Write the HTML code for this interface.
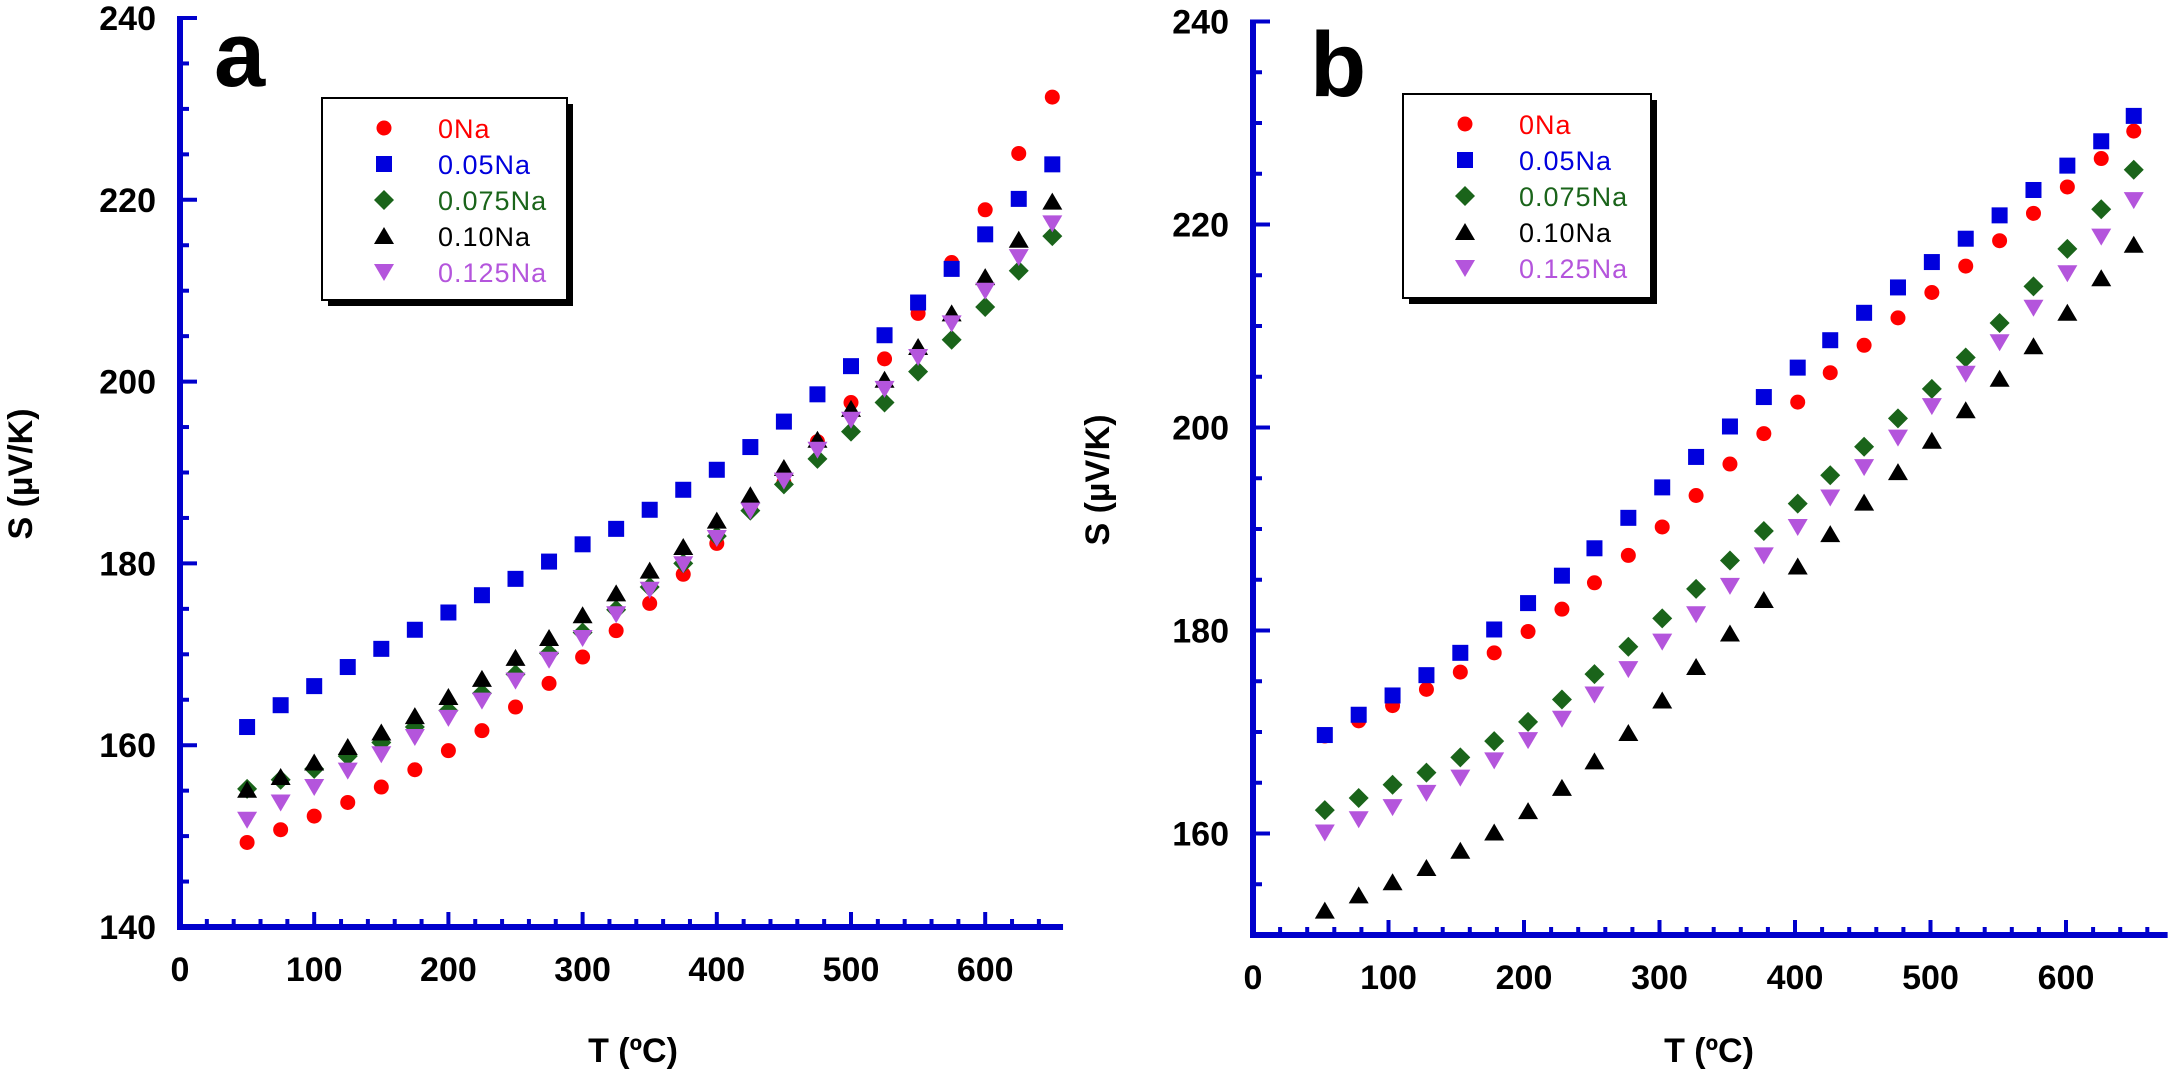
<!DOCTYPE html>
<html><head><meta charset="utf-8"><style>
html,body{margin:0;padding:0;background:#fff}
svg{display:block;font-family:"Liberation Sans",Arial,sans-serif}
</style></head><body>
<svg id="chart" width="2175" height="1076" viewBox="0 0 2175 1076"></svg>
<script>
const temps = [50,75,100,125,150,175,200,225,250,275,300,325,350,375,400,425,450,475,500,525,550,575,600,625,650];
const tempsB = [53,78,103,128,153,178,203,228,252,277,302,327,352,377,402,426,451,476,501,526,551,576,601,626,650];
const seriesNames = ["0Na","0.05Na","0.075Na","0.10Na","0.125Na"];
const a_0Na = [149.3,150.7,152.2,153.7,155.4,157.3,159.4,161.6,164.2,166.8,169.7,172.6,175.6,178.8,182.2,186.0,188.9,193.4,197.7,202.5,207.5,213.1,218.9,225.1,231.3];
const a_005Na = [162.0,164.4,166.5,168.6,170.6,172.7,174.6,176.5,178.3,180.2,182.1,183.8,185.9,188.1,190.3,192.8,195.6,198.6,201.7,205.1,208.7,212.4,216.2,220.1,223.9];
const a_0075Na = [155.2,156.2,157.4,158.8,160.3,162.0,163.8,165.7,167.8,170.1,172.4,174.9,177.4,180.0,183.0,185.8,188.7,191.5,194.5,197.7,201.1,204.6,208.2,212.2,216.0];
const a_010Na = [155.1,156.5,158.1,159.8,161.4,163.2,165.3,167.3,169.6,171.8,174.3,176.7,179.2,181.8,184.7,187.5,190.5,193.6,197.0,200.2,203.8,207.5,211.5,215.6,219.8];
const a_0125Na = [151.8,153.7,155.4,157.2,159.0,160.9,163.0,164.9,167.1,169.4,171.8,174.4,177.1,179.9,182.8,185.8,189.1,192.5,195.8,199.2,202.7,206.4,210.0,213.7,217.4];
const b_0Na = [169.6,171.1,172.6,174.2,175.9,177.8,179.9,182.1,184.7,187.4,190.2,193.3,196.4,199.4,202.5,205.4,208.1,210.8,213.3,215.9,218.4,221.1,223.7,226.5,229.2];
const b_005Na = [169.7,171.7,173.6,175.6,177.8,180.1,182.7,185.4,188.1,191.1,194.1,197.1,200.1,203.0,205.9,208.6,211.3,213.8,216.3,218.6,220.9,223.4,225.8,228.2,230.7];
const b_0075Na = [162.3,163.5,164.8,166.0,167.5,169.1,171.0,173.2,175.7,178.4,181.2,184.1,186.9,189.8,192.5,195.3,198.1,200.9,203.8,206.9,210.3,213.9,217.6,221.5,225.4];
const b_010Na = [152.4,153.9,155.2,156.6,158.3,160.1,162.2,164.5,167.1,169.9,173.1,176.4,179.7,183.0,186.3,189.5,192.6,195.6,198.7,201.7,204.8,208.0,211.3,214.7,218.0];
const b_0125Na = [160.1,161.4,162.6,164.0,165.5,167.2,169.2,171.3,173.7,176.2,178.9,181.6,184.4,187.4,190.2,193.1,196.1,199.0,202.1,205.3,208.4,211.8,215.2,218.8,222.4];
const xTicks = [0,100,200,300,400,500,600];
const yTicksA = [140,160,180,200,220,240];
const yTicksB = [160,180,200,220,240];

const NS="http://www.w3.org/2000/svg";
const svg=document.getElementById('chart');
const AX="#0000cc";
const colors=["#ff0000","#0000dd","#1a641a","#000000","#b455dc"];
const shapes=["circle","square","diamond","tri","tridown"];
function mk(tag,attrs,parent){const e=document.createElementNS(NS,tag);for(const k in attrs)e.setAttribute(k,attrs[k]);(parent||svg).appendChild(e);return e;}

function marker(g,shape,cx,cy,col){
  let e;
  if(shape==="circle") e=mk('circle',{cx:cx,cy:cy,r:7.5,fill:col},g);
  else if(shape==="square") e=mk('rect',{x:cx-8,y:cy-8,width:16,height:16,fill:col},g);
  else if(shape==="diamond") e=mk('polygon',{points:`${cx},${cy-10} ${cx+10},${cy} ${cx},${cy+10} ${cx-10},${cy}`,fill:col},g);
  else if(shape==="tri") e=mk('polygon',{points:`${cx},${cy-9} ${cx+10},${cy+8} ${cx-10},${cy+8}`,fill:col},g);
  else e=mk('polygon',{points:`${cx-10},${cy-8} ${cx+10},${cy-8} ${cx},${cy+9}`,fill:col},g);
  return e;
}

function panel(p){
  const g=mk('g',{});
  
  
  const X=v=>p.x0+(v)*p.xs;
  const Y=v=>p.yBot-(v-p.ymin)*p.ys;
  // axes
  const ya=mk('line',{x1:p.x0,y1:Y(p.ymax)-2,x2:p.x0,y2:p.yBot+3,stroke:AX,'stroke-width':6},g);
  
  
  const xa=mk('line',{x1:p.x0-3,y1:p.yBot,x2:X(p.xmax),y2:p.yBot,stroke:AX,'stroke-width':6},g);
  
  
  // y ticks every 5
  for(let v=p.ymin;v<=p.ymax+0.01;v+=5){
    if(v===p.ymin) continue;
    const major=(v%20===0);
    mk('line',{x1:p.x0,y1:Y(v),x2:p.x0+(major?17:9),y2:Y(v),stroke:AX,'stroke-width':4},g);
  }
  for(let v=20;v<=p.xmax;v+=20){
    const major=(v%100===0);
    mk('line',{x1:X(v),y1:p.yBot,x2:X(v),y2:p.yBot-(major?15:8),stroke:AX,'stroke-width':4},g);
  }
  p.yt.forEach(v=>{
    const t=mk('text',{x:p.x0-24,y:Y(v)+12,'text-anchor':'end','font-size':34,'font-weight':'bold'},g);
    t.textContent=v;
    
    
  });
  xTicks.forEach(v=>{
    const t=mk('text',{x:X(v),y:p.yBot+54,'text-anchor':'middle','font-size':34,'font-weight':'bold'},g);
    t.textContent=v;
    
    
  });
  const xt=mk('text',{x:p.xtx,y:1062,'text-anchor':'middle','font-size':34,'font-weight':'bold'},g);
  xt.textContent='T (ºC)';
  
  
  const yt=mk('text',{x:0,y:0,'text-anchor':'middle','font-size':34,'font-weight':'bold',transform:`translate(${p.ytx},${p.yty}) rotate(-90)`},g);
  yt.textContent='S (µV/K)';
  
  
  const lt=mk('text',{x:p.lx,y:p.ly,'font-size':92,'font-weight':'bold'},g);
  lt.textContent=p.id;
  
  
  // series
  const order=[0,2,3,4,1];
  order.forEach(si=>{
    const sg=mk('g',{},g);
    
    
    p.series[si].forEach((v,i)=>{
      const m=marker(sg,shapes[si],X(p.xs_[i]),Y(v),colors[si]);
      
      
    });
  });
  // legend
  const lg=mk('g',{},g);
  
  
  const L=p.leg;
  mk('rect',{x:L.x+6,y:L.y+6,width:L.w,height:L.h,fill:'#000'},lg);
  mk('rect',{x:L.x,y:L.y,width:L.w,height:L.h,fill:'#fff',stroke:'#000','stroke-width':2},lg);
  seriesNames.forEach((n,i)=>{
    const ry=L.y+30+i*36;
    const e=mk('g',{},lg);
    
    
    marker(e,shapes[i],L.x+62,ry,colors[i]);
    const t=mk('text',{x:L.x+116,y:ry+10,'font-size':27,fill:colors[i],'letter-spacing':'1'},e);
    t.textContent=n;
  });
}

panel({id:'a',x0:180,xs:1.342,xmax:658,ymin:140,ymax:240,yBot:927,ys:9.09,yt:yTicksA,xs_:temps,
  series:[a_0Na,a_005Na,a_0075Na,a_010Na,a_0125Na],xtx:633,ytx:32,yty:474,lx:214,ly:86,
  leg:{x:322,y:98,w:245,h:202}});
panel({id:'b',x0:1253,xs:1.355,xmax:675,ymin:150,ymax:240,yBot:935,ys:10.15,yt:yTicksB,xs_:tempsB,
  series:[b_0Na,b_005Na,b_0075Na,b_010Na,b_0125Na],xtx:1709,ytx:1109,yty:480,lx:1310,ly:96,
  leg:{x:1403,y:94,w:248,h:204}});
</script>
</body></html>
